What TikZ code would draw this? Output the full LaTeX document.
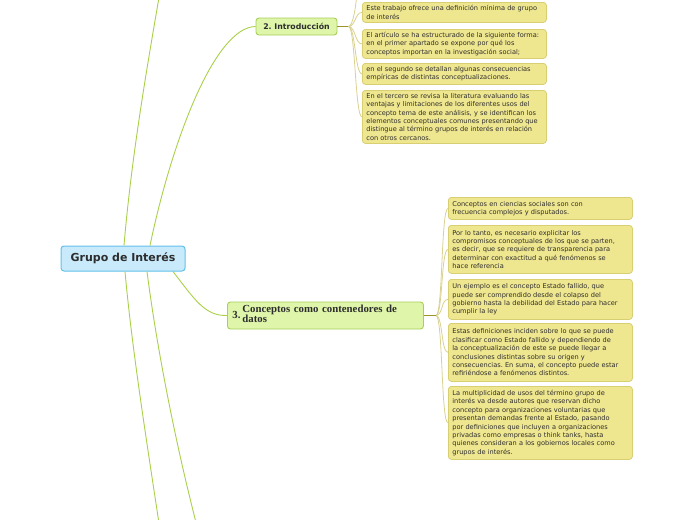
\documentclass[tikz,border=0pt]{standalone}
\usepackage{fontspec}
\setmainfont{DejaVu Sans}
\newfontfamily\titleserif{Liberation Serif}
\usetikzlibrary{calc}
\frenchspacing

\definecolor{rootFill}{HTML}{C8EAFB}
\definecolor{rootLine}{HTML}{62C0EC}
\definecolor{topicFill}{HTML}{DEF5AA}
\definecolor{topicLine}{HTML}{A8D058}
\definecolor{leafFill}{HTML}{EFE690}
\definecolor{leafLine}{HTML}{D8CF72}
\definecolor{wireGreen}{HTML}{A9D04A}
\definecolor{twigLight}{HTML}{D9D190}
\definecolor{stubOlive}{HTML}{9C9428}
\definecolor{inkDark}{HTML}{2D2D2D}

\begin{document}
\begin{tikzpicture}[x=1pt, y=-1pt,
    rootbox/.style={draw=rootLine, fill=rootFill, line width=1pt, rounded corners=3pt,
        minimum width=124pt, minimum height=25pt, inner sep=0pt, text=inkDark,
        font=\bfseries\fontsize{11}{13}\selectfont},
    topicbox/.style={draw=topicLine, fill=topicFill, line width=0.9pt, rounded corners=3pt,
        inner sep=0pt, text=inkDark, font=\bfseries\fontsize{7.8}{8.5}\selectfont},
    leaf/.style={draw=leafLine, fill=leafFill, line width=0.8pt, rounded corners=3pt,
        anchor=north west, text width=176pt, inner xsep=4pt, inner ysep=0pt,
        align=left, text=inkDark, font=\fontsize{6.6}{8.4}\selectfont},
    wire/.style={wireGreen, line width=0.9pt},
    twig/.style={twigLight, line width=0.8pt},
    stub/.style={stubOlive, line width=1.2pt}]

        % Frame of the view
        \useasboundingbox (0,0) rectangle (697,520);
        \clip (0,0) rectangle (697,520);

        % Central topic
        \node[rootbox] (root) at (123,258.5) {Grupo de Interés};

        % Main branches
        \node[topicbox, minimum width=81pt, minimum height=17pt] (intro)
            at (296.5,26.5) {2. Introducción};
        \node[topicbox, anchor=west, text width=186pt, inner xsep=5pt, align=left,
            minimum height=27pt,
            font=\titleserif\bfseries\fontsize{10.8}{10.5}\selectfont] (concepts)
            at (227,315.5)
            {3.\,\begin{tabular}[c]{@{}l@{}}Conceptos como contenedores de\\datos\end{tabular}};

        % Leaves of the introduction
        \node[leaf, minimum height=20pt] (i1) at (362,2)
            {Este trabajo ofrece una definición mínima de grupo\\de interés};
        \node[leaf, minimum height=29pt] (i2) at (362,29)
            {El artículo se ha estructurado de la siguiente forma:\\en el primer apartado se expone por qué los\\conceptos importan en la investigación social;};
        \node[leaf, minimum height=21pt] (i3) at (362,63)
            {en el segundo se detallan algunas consecuencias\\empíricas de distintas conceptualizaciones.};
        \node[leaf, minimum height=53pt] (i4) at (362,90)
            {En el tercero se revisa la literatura evaluando las\\ventajas y limitaciones de los diferentes usos del\\concepto tema de este análisis, y se identifican los\\elementos conceptuales comunes presentando que\\distingue al término grupos de interés en relación\\con otros cercanos.};

        % Leaves of the concepts branch
        \node[leaf, minimum height=22pt] (c1) at (448,197)
            {Conceptos en ciencias sociales son con\\frecuencia complejos y disputados.};
        \node[leaf, minimum height=48pt] (c2) at (448,225)
            {Por lo tanto, es necesario explicitar los\\compromisos conceptuales de los que se parten,\\es decir, que se requiere de transparencia para\\determinar con exactitud a qué fenómenos se\\hace referencia};
        \node[leaf, minimum height=40pt] (c3) at (448,279)
            {Un ejemplo es el concepto Estado fallido, que\\puede ser comprendido desde el colapso del\\gobierno hasta la debilidad del Estado para hacer\\cumplir la ley};
        \node[leaf, minimum height=58pt] (c4) at (448,323)
            {Estas definiciones inciden sobre lo que se puede\\clasificar como Estado fallido y dependiendo de\\la conceptualización de este se puede llegar a\\conclusiones distintas sobre su origen y\\consecuencias. En suma, el concepto puede estar\\refiriéndose a fenómenos distintos.};
        \node[leaf, minimum height=73pt] (c5) at (448,386)
            {La multiplicidad de usos del término grupo de\\interés va desde autores que reservan dicho\\concepto para organizaciones voluntarias que\\presentan demandas frente al Estado, pasando\\por definiciones que incluyen a organizaciones\\privadas como empresas o think tanks, hasta\\quienes consideran a los gobiernos locales como\\grupos de interés.};

        % Branches leaving the view
        \coordinate (upRoot) at (162,-20);
        \coordinate (downA) at (160,530);
        \coordinate (downB) at (198,530);
        \coordinate (upIntro) at (357,-12);

        % Wires from the central topic
        \draw[wire] ([xshift=1pt]root.north) .. controls (132,150) and (150,50) .. (upRoot);
        \draw[wire] ([xshift=27pt]root.north) .. controls (172,140) and (215,27) .. (intro.west);
        \draw[wire] ([xshift=2pt]root.south) .. controls (132,350) and (148,450) .. (downA);
        \draw[wire] ([xshift=24pt]root.south) .. controls (157,350) and (177,450) .. (downB);
        \draw[wire] ([xshift=50pt]root.south) .. controls (195,300) and (205,316) .. (concepts.west);

        % Twigs of the introduction
        \coordinate (jIntro) at ($(intro.east)+(11,0)$);
        \draw[twig] (jIntro) .. controls +(5,0) and +(0,12) .. (upIntro);
        \foreach \leaf in {i1,i2,i3,i4}
            \draw[twig] (jIntro) .. controls +(7,0) and +(-7,0) .. (\leaf.west);
        \draw[stub] (intro.east) -- (jIntro);

        % Twigs of the concepts branch
        \coordinate (jConcepts) at ($(concepts.east)+(12,0)$);
        \foreach \leaf in {c1,c2,c3,c4,c5}
            \draw[twig] (jConcepts) .. controls +(7,0) and +(-7,0) .. (\leaf.west);
        \draw[stub] (concepts.east) -- (jConcepts);

    \end{tikzpicture}
\end{document}
